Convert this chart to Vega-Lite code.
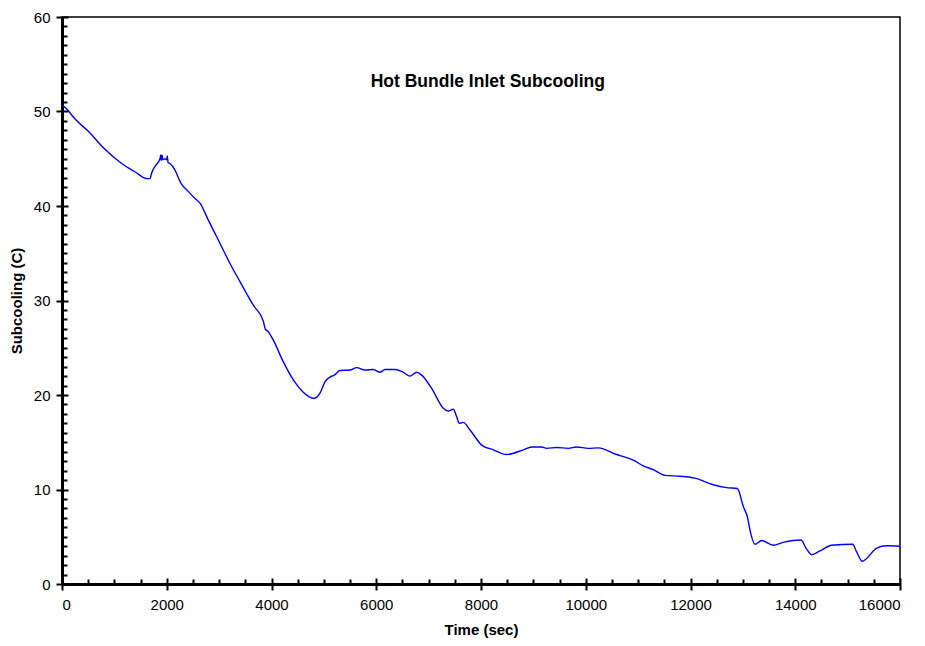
{
  "$schema": "https://vega.github.io/schema/vega-lite/v6.json",
  "width": 838,
  "height": 567,
  "autosize": {"type": "none"},
  "padding": {"left": 62, "top": 17, "right": 25, "bottom": 62},
  "background": "white",
  "config": {
    "font": "Liberation Sans",
    "view": {"stroke": "black", "strokeWidth": 1.5}
  },
  "datasets": {
    "series": [
      {"t": 0, "v": 50.7},
      {"t": 100, "v": 50.2},
      {"t": 250, "v": 49.2},
      {"t": 503, "v": 47.9},
      {"t": 800, "v": 46.1},
      {"t": 1139, "v": 44.5},
      {"t": 1400, "v": 43.6},
      {"t": 1617, "v": 42.9},
      {"t": 1680, "v": 42.9},
      {"t": 1712, "v": 43.5},
      {"t": 1790, "v": 44.3},
      {"t": 1871, "v": 45.0},
      {"t": 1885, "v": 45.4},
      {"t": 1895, "v": 44.8},
      {"t": 1910, "v": 45.4},
      {"t": 1925, "v": 44.9},
      {"t": 1960, "v": 45.0},
      {"t": 1998, "v": 44.9},
      {"t": 2010, "v": 45.3},
      {"t": 2025, "v": 44.6},
      {"t": 2062, "v": 44.5},
      {"t": 2158, "v": 43.8},
      {"t": 2253, "v": 42.6},
      {"t": 2285, "v": 42.3},
      {"t": 2400, "v": 41.6},
      {"t": 2539, "v": 40.8},
      {"t": 2635, "v": 40.3},
      {"t": 2794, "v": 38.5},
      {"t": 2985, "v": 36.4},
      {"t": 3200, "v": 34.0},
      {"t": 3398, "v": 32.0},
      {"t": 3653, "v": 29.5},
      {"t": 3844, "v": 27.8},
      {"t": 3880, "v": 27.0},
      {"t": 3939, "v": 26.7},
      {"t": 4035, "v": 25.8},
      {"t": 4226, "v": 23.5},
      {"t": 4417, "v": 21.6},
      {"t": 4607, "v": 20.3},
      {"t": 4811, "v": 19.65},
      {"t": 4926, "v": 20.2},
      {"t": 5021, "v": 21.4},
      {"t": 5117, "v": 21.9},
      {"t": 5200, "v": 22.1},
      {"t": 5308, "v": 22.6},
      {"t": 5499, "v": 22.65},
      {"t": 5626, "v": 22.9},
      {"t": 5785, "v": 22.65},
      {"t": 5944, "v": 22.7},
      {"t": 6071, "v": 22.4},
      {"t": 6167, "v": 22.7},
      {"t": 6358, "v": 22.7},
      {"t": 6516, "v": 22.4},
      {"t": 6644, "v": 22.0},
      {"t": 6771, "v": 22.4},
      {"t": 6867, "v": 22.1},
      {"t": 7058, "v": 20.7},
      {"t": 7280, "v": 18.6},
      {"t": 7376, "v": 18.3},
      {"t": 7471, "v": 18.5},
      {"t": 7535, "v": 17.7},
      {"t": 7586, "v": 17.0},
      {"t": 7662, "v": 17.1},
      {"t": 7790, "v": 16.3},
      {"t": 8013, "v": 14.7},
      {"t": 8235, "v": 14.2},
      {"t": 8490, "v": 13.7},
      {"t": 8808, "v": 14.2},
      {"t": 8967, "v": 14.5},
      {"t": 9158, "v": 14.5},
      {"t": 9253, "v": 14.35},
      {"t": 9444, "v": 14.45},
      {"t": 9667, "v": 14.35},
      {"t": 9826, "v": 14.5},
      {"t": 10048, "v": 14.35},
      {"t": 10239, "v": 14.4},
      {"t": 10589, "v": 13.7},
      {"t": 10908, "v": 13.1},
      {"t": 11099, "v": 12.5},
      {"t": 11290, "v": 12.1},
      {"t": 11512, "v": 11.5},
      {"t": 11799, "v": 11.4},
      {"t": 12086, "v": 11.2},
      {"t": 12435, "v": 10.5},
      {"t": 12690, "v": 10.2},
      {"t": 12894, "v": 10.1},
      {"t": 13008, "v": 8.2},
      {"t": 13091, "v": 7.0},
      {"t": 13136, "v": 5.7},
      {"t": 13231, "v": 4.2},
      {"t": 13358, "v": 4.6},
      {"t": 13580, "v": 4.1},
      {"t": 13771, "v": 4.4},
      {"t": 14110, "v": 4.65},
      {"t": 14205, "v": 3.8},
      {"t": 14313, "v": 3.1},
      {"t": 14472, "v": 3.5},
      {"t": 14695, "v": 4.1},
      {"t": 15096, "v": 4.2},
      {"t": 15172, "v": 3.4},
      {"t": 15280, "v": 2.4},
      {"t": 15363, "v": 2.7},
      {"t": 15554, "v": 3.8},
      {"t": 15745, "v": 4.05},
      {"t": 16000, "v": 4.0}
    ],
    "label": [
      {"t": 8130, "v": 53.1, "txt": "Hot Bundle Inlet Subcooling"}
    ]
  },
  "resolve": {"axis": {"x": "independent", "y": "independent"}},
  "layer": [
    {
      "data": {"name": "series"},
      "mark": {"type": "line", "color": "#0000FF", "strokeWidth": 1.4, "clip": true, "interpolate": "monotone"},
      "encoding": {
        "x": {
          "field": "t", "type": "quantitative",
          "scale": {"domain": [0, 16000], "nice": false, "zero": false},
          "axis": {
            "orient": "bottom",
            "title": "Time (sec)",
            "values": [0, 2000, 4000, 6000, 8000, 10000, 12000, 14000, 16000],
            "format": "d",
            "grid": false,
            "ticks": false,
            "labelPadding": 13,
            "labelFont": "Liberation Sans",
            "labelFontSize": 15,
            "labelColor": "black",
            "titleFont": "Liberation Sans",
            "titleFontSize": 15,
            "titleFontWeight": "bold",
            "titleColor": "black",
            "titlePadding": 10,
            "domainColor": "black",
            "domainWidth": 3
          }
        },
        "y": {
          "field": "v", "type": "quantitative",
          "scale": {"domain": [0, 60], "nice": false, "zero": true},
          "axis": {
            "orient": "left",
            "title": "Subcooling (C)",
            "values": [0, 10, 20, 30, 40, 50, 60],
            "grid": false,
            "ticks": false,
            "labelPadding": 12,
            "labelFont": "Liberation Sans",
            "labelFontSize": 15,
            "labelColor": "black",
            "titleFont": "Liberation Sans",
            "titleFontSize": 15,
            "titleFontWeight": "bold",
            "titleColor": "black",
            "titlePadding": 9,
            "domainColor": "black",
            "domainWidth": 3
          }
        }
      }
    },
    {
      "data": {"name": "label"},
      "mark": {"type": "text", "font": "Liberation Sans", "fontSize": 17.5, "fontWeight": "bold", "color": "black", "align": "center", "baseline": "middle"},
      "encoding": {
        "text": {"field": "txt"},
        "x": {
          "field": "t", "type": "quantitative",
          "axis": {
            "orient": "bottom",
            "title": null,
            "labels": false,
            "domain": false,
            "grid": false,
            "values": [0, 2000, 4000, 6000, 8000, 10000, 12000, 14000, 16000],
            "offset": -6,
            "tickSize": 12,
            "tickWidth": 2,
            "tickColor": "black"
          }
        },
        "y": {
          "field": "v", "type": "quantitative",
          "axis": {
            "orient": "left",
            "title": null,
            "labels": false,
            "domain": false,
            "grid": false,
            "values": [0, 10, 20, 30, 40, 50, 60],
            "offset": -6,
            "tickSize": 12,
            "tickWidth": 2,
            "tickColor": "black"
          }
        }
      }
    },
    {
      "data": {"name": "label"},
      "mark": {"type": "rule", "color": "black", "strokeWidth": 0},
      "encoding": {
        "x": {
          "datum": 0, "type": "quantitative",
          "axis": {
            "orient": "bottom",
            "title": null,
            "labels": false,
            "domain": false,
            "grid": false,
            "values": [500, 1000, 1500, 2500, 3000, 3500, 4500, 5000, 5500, 6500, 7000, 7500, 8500, 9000, 9500, 10500, 11000, 11500, 12500, 13000, 13500, 14500, 15000, 15500],
            "tickSize": -5,
            "tickWidth": 2,
            "tickColor": "black"
          }
        },
        "x2": {"datum": 16000},
        "y": {
          "datum": 0, "type": "quantitative",
          "axis": {
            "orient": "left",
            "title": null,
            "labels": false,
            "domain": false,
            "grid": false,
            "values": [1,2,3,4,5,6,7,8,9,11,12,13,14,15,16,17,18,19,21,22,23,24,25,26,27,28,29,31,32,33,34,35,36,37,38,39,41,42,43,44,45,46,47,48,49,51,52,53,54,55,56,57,58,59],
            "tickSize": -5,
            "tickWidth": 2,
            "tickColor": "black"
          }
        }
      }
    }
  ]
}
